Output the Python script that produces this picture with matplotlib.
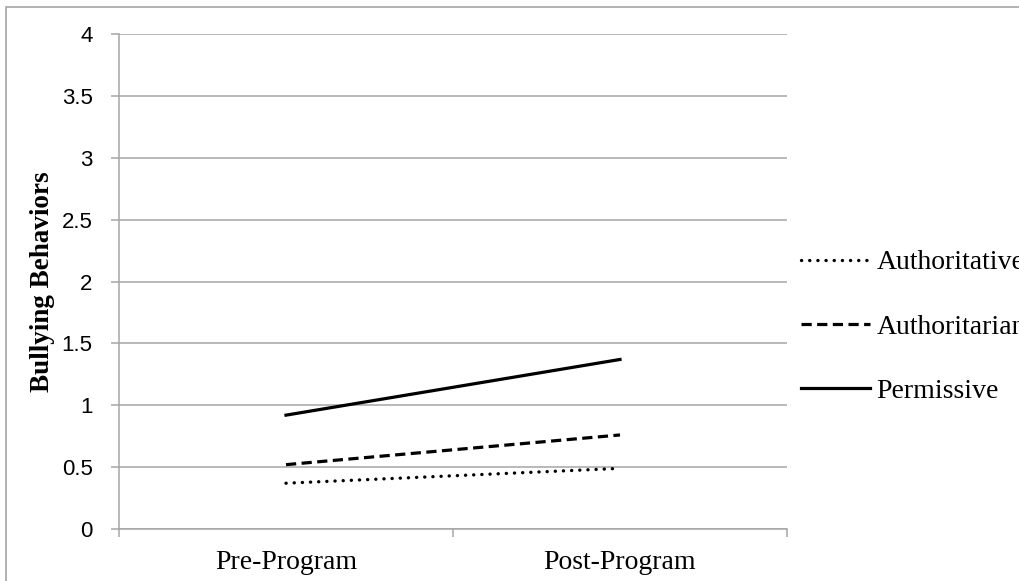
import matplotlib.pyplot as plt
from matplotlib.patches import Rectangle

categories = ['Pre-Program', 'Post-Program']
authoritative = [0.37, 0.49]
authoritarian = [0.52, 0.76]
permissive = [0.92, 1.37]
y_ticks = [0, 0.5, 1, 1.5, 2, 2.5, 3, 3.5, 4]
y_labels = ['0', '0.5', '1', '1.5', '2', '2.5', '3', '3.5', '4']

serif = 'Liberation Serif'
grey = '#A6A6A6'

fig = plt.figure(figsize=(10.19, 5.81), dpi=100)
ax = fig.add_axes([119/1019, 1 - 529/581, (787 - 119)/1019, (529 - 34)/581])

# outer chart border (cut off at right and bottom like the original)
fig.patches.append(Rectangle((6/1019, -0.1), 1.2, 1 - 7/581 + 0.1,
                             transform=fig.transFigure, fill=False,
                             edgecolor=grey, linewidth=1.2))

x = [0.5, 1.5]
ax.plot(x, authoritative, color='black', linewidth=2.4,
        linestyle=(0, (0.05, 2.4)), dash_capstyle='round', label='Authoritative')
ax.plot(x, authoritarian, color='black', linewidth=2.3,
        linestyle=(0, (3.2, 1.7)), label='Authoritarian')
ax.plot(x, permissive, color='black', linewidth=2.3, label='Permissive')

ax.set_xlim(0, 2)
ax.set_ylim(0, 4)
ax.set_yticks(y_ticks)
ax.set_yticklabels(y_labels, fontfamily='Liberation Sans', fontsize=16)
ax.yaxis.grid(True, color=grey, linewidth=1.1)
ax.set_axisbelow(True)

ax.set_xticks([0, 1, 2])
ax.set_xticklabels([])
ax.set_xticks(x, minor=True)
ax.set_xticklabels(categories, minor=True, fontfamily=serif, fontsize=20)
ax.tick_params(axis='x', which='minor', length=0, pad=15)
ax.tick_params(axis='x', which='major', length=6, color=grey, width=1.1)
ax.tick_params(axis='y', length=6, color=grey, width=1.1, pad=13)

for s in ['top', 'right']:
    ax.spines[s].set_visible(False)
for s in ['left', 'bottom']:
    ax.spines[s].set_color(grey)
    ax.spines[s].set_linewidth(1.1)

ax.set_ylabel('Bullying Behaviors', fontfamily=serif, fontweight='bold',
              fontsize=19.5)
ax.yaxis.set_label_coords(-64/668, 0.5)

fig.legend(loc='upper left', bbox_to_anchor=(801/1019, 1 - 250/581),
           frameon=False, borderpad=0, borderaxespad=0,
           handlelength=2.5, handletextpad=0.22, labelspacing=1.4,
           prop={'family': serif, 'size': 20})

fig.savefig('out.png', dpi=100)
